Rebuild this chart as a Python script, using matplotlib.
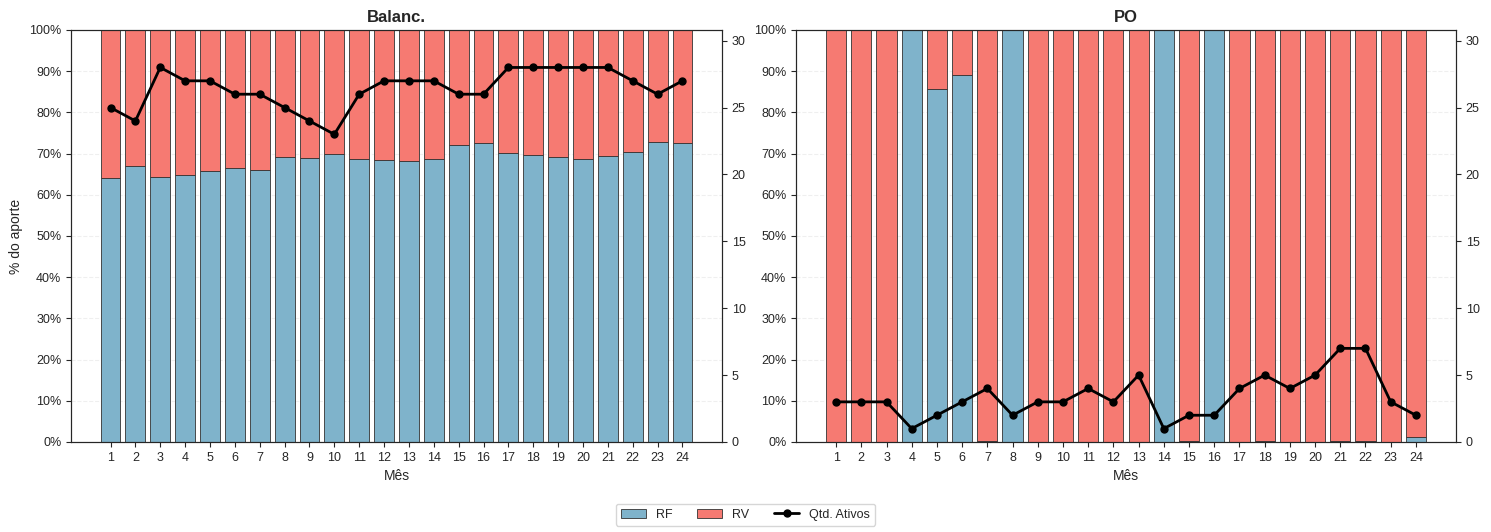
import numpy as np
import matplotlib
matplotlib.use("Agg")
import matplotlib.pyplot as plt
import seaborn as sns
from matplotlib.ticker import PercentFormatter

sns.set_style("ticks")
plt.rcParams['font.family'] = ['Liberation Sans', 'DejaVu Sans']

meses = list(range(1, 25))

# % RF no aporte (RV = 100 - RF)
rf_balanc = [64.1, 67.0, 64.4, 64.9, 65.8, 66.5, 66.1, 69.2, 68.9, 69.8, 68.7, 68.4,
             68.2, 68.6, 72.1, 72.6, 70.2, 69.6, 69.2, 68.7, 69.4, 70.4, 72.9, 72.6]
qtd_balanc = [25, 24, 28, 27, 27, 26, 26, 25, 24, 23, 26, 27,
              27, 27, 26, 26, 28, 28, 28, 28, 28, 27, 26, 27]

rf_po = [0, 0, 0, 100, 85.7, 89.0, 0.3, 100, 0, 0, 0, 0,
         0, 100, 0.2, 100, 0, 0.2, 0, 0, 0.2, 0.2, 0, 1.2]
qtd_po = [3, 3, 3, 1, 2, 3, 4, 2, 3, 3, 4, 3,
          5, 1, 2, 2, 4, 5, 4, 5, 7, 7, 3, 2]

carteiras = [("Balanc.", rf_balanc, qtd_balanc), ("PO", rf_po, qtd_po)]

cor_rf = "#7fb3cb"
cor_rv = "#f67a72"
qtd_max = max(max(qtd_balanc), max(qtd_po)) * 1.1

W, H = 1491, 532
fig = plt.figure(figsize=(W / 100, H / 100), dpi=100)
# posições em pixels (x0, largura) de cada painel
paineis = [(71, 651), (796, 660)]

for i, (nome, rf, qtd) in enumerate(carteiras):
    x0, w = paineis[i]
    ax = fig.add_axes([x0 / W, (H - 442) / H, w / W, 412 / H])
    x = np.arange(len(meses))
    rf = np.array(rf)
    rv = 100 - rf
    b1 = ax.bar(x, rf, color=cor_rf, edgecolor="#333333", linewidth=0.6, label="RF")
    b2 = ax.bar(x, rv, bottom=rf, color=cor_rv, edgecolor="#333333", linewidth=0.6, label="RV")
    ax.set_ylim(0, 100)
    ax.yaxis.set_major_locator(plt.MultipleLocator(10))
    ax.yaxis.set_major_formatter(PercentFormatter(100, decimals=0))
    ax.set_xticks(x)
    ax.set_xticklabels(meses)
    ax.set_xlabel("Mês", fontsize=10)
    if i == 0:
        ax.set_ylabel("% do aporte", fontsize=10)
    ax.set_title(nome, fontsize=12, fontweight="bold")
    ax.grid(axis="y", linestyle="--", alpha=0.3)
    ax.set_axisbelow(True)
    ax.tick_params(labelsize=9)

    ax2 = ax.twinx()
    l, = ax2.plot(x, qtd, color="black", marker="o", linewidth=2, markersize=5, label="Qtd. Ativos")
    ax2.set_ylim(0, qtd_max)
    ax2.tick_params(labelsize=9)

fig.legend([b1, b2, l], ["RF", "RV", "Qtd. Ativos"], loc="lower center", ncol=3,
           fontsize=9, bbox_to_anchor=(0.5, 0.0))
plt.savefig("out.png", dpi=100)
